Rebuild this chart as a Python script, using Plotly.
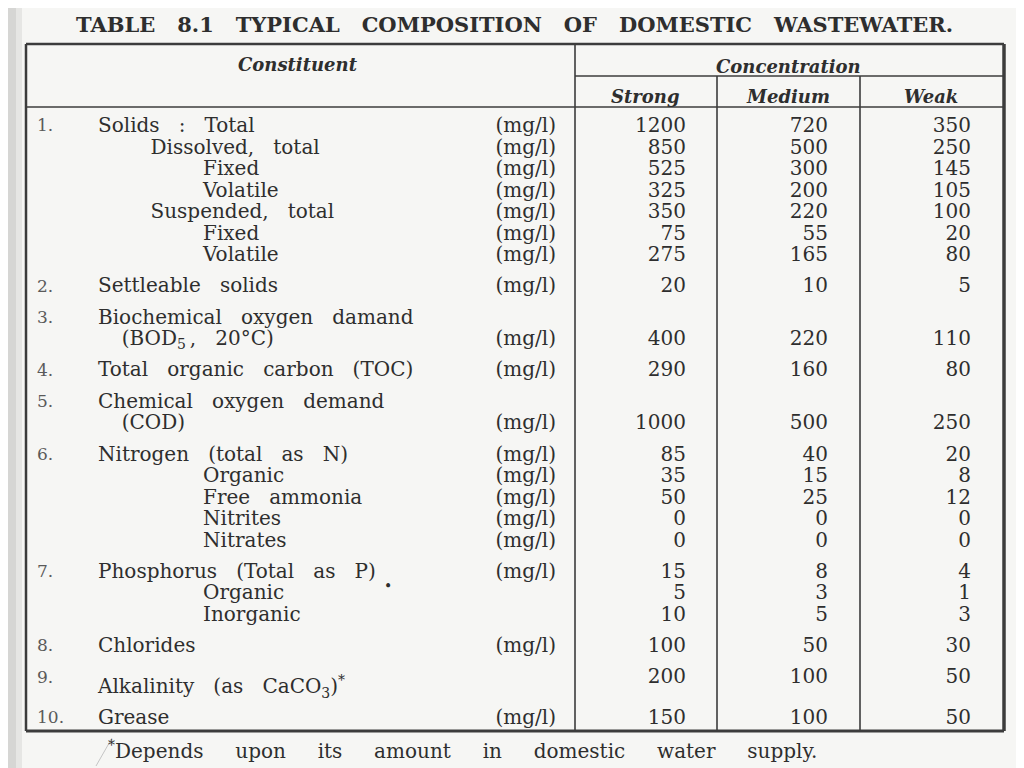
import plotly.graph_objects as go

TITLE = "TABLE 8.1 TYPICAL COMPOSITION OF DOMESTIC WASTEWATER."
FOOTNOTE = "<sup>*</sup>Depends upon its amount in domestic water supply."
COLUMNS = ["Strong", "Medium", "Weak"]

ITEM_NO = ["1.", "", "", "", "", "", "", "2.", "3.", "", "4.", "5.", "",
           "6.", "", "", "", "", "7.", "", "", "8.", "9.", "10."]
LABELS = [
    "Solids : Total", "Dissolved, total", "Fixed", "Volatile",
    "Suspended, total", "Fixed", "Volatile",
    "Settleable solids",
    "Biochemical oxygen damand", "(BOD<sub>5</sub>\u2009, 20°C)",
    "Total organic carbon (TOC)",
    "Chemical oxygen demand", "(COD)",
    "Nitrogen (total as N)", "Organic", "Free ammonia", "Nitrites", "Nitrates",
    "Phosphorus (Total as P)", "Organic", "Inorganic",
    "Chlorides",
    "Alkalinity (as CaCO<sub>3</sub>)<sup>*</sup>",
    "Grease",
]
LEVEL = [0, 1, 2, 2, 1, 2, 2, 0, 0, 0.45, 0, 0, 0.45,
         0, 2, 2, 2, 2, 0, 2, 2, 0, 0, 0]
UNITS = ["(mg/l)"] * 8 + ["", "(mg/l)", "(mg/l)", "", "(mg/l)"] + ["(mg/l)"] * 6 \
    + ["", "", "(mg/l)", "", "(mg/l)"]
STRONG = [1200, 850, 525, 325, 350, 75, 275, 20, None, 400, 290, None, 1000,
          85, 35, 50, 0, 0, 15, 5, 10, 100, 200, 150]
MEDIUM = [720, 500, 300, 200, 220, 55, 165, 10, None, 220, 160, None, 500,
          40, 15, 25, 0, 0, 8, 3, 5, 50, 100, 100]
WEAK = [350, 250, 145, 105, 100, 20, 80, 5, None, 110, 80, None, 250,
        20, 8, 12, 0, 0, 4, 1, 3, 30, 50, 50]

INK = "#2e2e2e"
LINE = "#3c3c3c"
FONT = "DejaVu Serif"


def spaced(s, n=3):
    # the scan has very loose word spacing
    return s.replace(" ", "\u00a0" * n)


def filled(ys, texts):
    # drop the blank cells so no empty text nodes are drawn
    pairs = [(y, t) for y, t in zip(ys, texts) if t not in ("", None)]
    return [p[0] for p in pairs], [str(p[1]) for p in pairs]


# row layout: fixed line pitch, extra gap when a new numbered item starts
ys, y = [], 127.0
for i, no in enumerate(ITEM_NO):
    if i > 0:
        y += 21.5
        if no:
            y += 9.8
    if no.startswith("10"):
        y += 9.5
    ys.append(y)

# alkalinity label sits a little below its number and values
label_y = [v + (10 if "Alkalinity" in lab else 0) for v, lab in zip(ys, LABELS)]

fig = go.Figure()

no_y, no_txt = filled(ys, ITEM_NO)
fig.add_trace(go.Scatter(
    x=[37] * len(no_y), y=no_y, text=no_txt, mode="text",
    textposition="middle right", textfont=dict(family=FONT, size=17, color="#5a5a5a"),
    hoverinfo="skip",
))
fig.add_trace(go.Scatter(
    x=[98 + 52.5 * lv for lv in LEVEL], y=label_y,
    text=[spaced(t) for t in LABELS], mode="text",
    textposition="middle right", textfont=dict(family=FONT, size=20, color=INK),
    hoverinfo="skip",
))
u_y, u_txt = filled(ys, UNITS)
fig.add_trace(go.Scatter(
    x=[556] * len(u_y), y=u_y, text=u_txt, mode="text",
    textposition="middle left", textfont=dict(family=FONT, size=20, color=INK),
    hoverinfo="skip",
))
for xr, vals in zip([686, 828, 971], [STRONG, MEDIUM, WEAK]):
    v_y, v_txt = filled(ys, vals)
    fig.add_trace(go.Scatter(
        x=[xr] * len(v_y), y=v_y, text=v_txt, mode="text",
        textposition="middle left", textfont=dict(family=FONT, size=20, color=INK),
        hoverinfo="skip",
    ))

# table rules
L, R, T, B = 26, 1004, 44, 731
xc, xs1, xs2 = 575, 717, 860
rules = [
    (L, T, R, T, 2.5), (L, B, R, B, 3), (L, T, L, B, 2.5), (R, T, R, B, 3.5),
    (xc, T, xc, B, 1.6), (xc, 76, R, 76, 1.6), (L, 107, R, 107, 1.6),
    (xs1, 76, xs1, B, 1.6), (xs2, 76, xs2, B, 1.6),
]
shapes = [
    dict(type="rect", xref="x", yref="y", x0=0, x1=16, y0=0, y1=768,
         fillcolor="#d6d6d4", line_width=0, layer="below"),
    dict(type="rect", xref="x", yref="y", x0=16, x1=22, y0=0, y1=768,
         fillcolor="#e6e6e4", line_width=0, layer="below"),
]
for x0, y0, x1, y1, w in rules:
    shapes.append(dict(type="line", xref="x", yref="y", x0=x0, y0=y0, x1=x1, y1=y1,
                       line=dict(color=LINE, width=w)))
# pen marks on the scan
shapes.append(dict(type="line", xref="x", yref="y", x0=96, y0=766, x1=112, y1=738,
                   line=dict(color="#c4c4c4", width=1)))

annotations = [
    dict(x=514, y=24, text="<b>" + spaced(TITLE, 3) + "</b>", showarrow=False,
         font=dict(family=FONT, size=21, color=INK), xanchor="center", yanchor="middle"),
    dict(x=298, y=64, text="<b><i>Constituent</i></b>", showarrow=False,
         font=dict(family=FONT, size=18, color=INK)),
    dict(x=788, y=66, text="<b><i>Concentration</i></b>", showarrow=False,
         font=dict(family=FONT, size=18, color=INK)),
    dict(x=388, y=586, text="•", showarrow=False,
         font=dict(family=FONT, size=14, color=INK)),
    dict(x=106, y=750, text=spaced(FOOTNOTE, 5), showarrow=False, xanchor="left",
         font=dict(family=FONT, size=20, color=INK)),
]
for name, xm in zip(COLUMNS, [645, 788, 931]):
    annotations.append(dict(x=xm, y=96, text=f"<b><i>{name}</i></b>", showarrow=False,
                            font=dict(family=FONT, size=18, color=INK)))

# the page body adds an 8px margin, so the axes start at 8 to keep pixel coordinates
fig.update_layout(
    width=1016, height=760,
    margin=dict(l=0, r=0, t=0, b=0),
    paper_bgcolor="#f6f6f4", plot_bgcolor="#f6f6f4",
    showlegend=False,
    xaxis=dict(range=[8, 1024], visible=False, fixedrange=True),
    yaxis=dict(range=[768, 8], visible=False, fixedrange=True),
    shapes=shapes,
    annotations=annotations,
)

fig.write_html("out.html")
